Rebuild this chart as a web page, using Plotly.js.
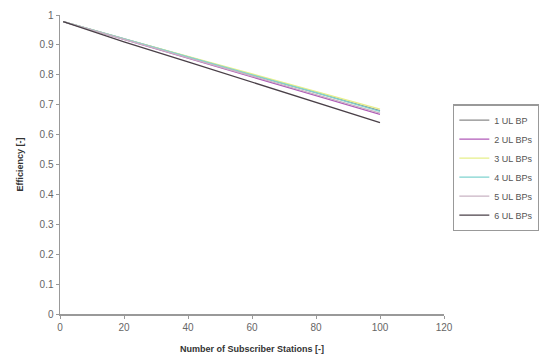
<!DOCTYPE html>
<html>
<head>
<meta charset="utf-8">
<script src="https://cdn.plot.ly/plotly-3.0.1.min.js"></script>
<style>html,body{margin:0;padding:0;background:#fff;}#chart{width:539px;height:362px;}</style>
</head>
<body>
<div id="chart"></div>
<script>
const stations = [1, 20, 40, 60, 80, 100];
const names = ["1 UL BP", "2 UL BPs", "3 UL BPs", "4 UL BPs", "5 UL BPs", "6 UL BPs"];
const eff1 = [0.978, 0.920, 0.860, 0.800, 0.740, 0.680];
const eff2 = [0.978, 0.918, 0.855, 0.793, 0.730, 0.668];
const eff3 = [0.978, 0.920, 0.862, 0.803, 0.745, 0.685];
const eff4 = [0.978, 0.920, 0.860, 0.800, 0.740, 0.678];
const eff5 = [0.978, 0.918, 0.857, 0.796, 0.735, 0.672];
const eff6 = [0.978, 0.910, 0.843, 0.775, 0.707, 0.640];
const series = [eff1, eff2, eff3, eff4, eff5, eff6];
const colors = ["#8a8a8a", "#b05ab8", "#e6ef8a", "#7fd3cf", "#c9b3c3", "#4a4048"];

const traces = series.map((s, i) => ({
  x: stations, y: s, name: names[i], type: "scatter", mode: "lines",
  line: {color: colors[i], width: 1.3}
}));

const fam = "Liberation Sans, Arial, sans-serif";
const layout = {
  width: 539, height: 362,
  margin: {l: 60, r: 95, t: 15, b: 48, autoexpand: false},
  paper_bgcolor: "#fff", plot_bgcolor: "#fff",
  font: {family: fam, size: 10, color: "#555"},
  showlegend: true,
  legend: {
    x: 1.023, xanchor: "left", y: 0.702, yanchor: "top",
    bordercolor: "#999", borderwidth: 1.5, bgcolor: "#fff",
    font: {family: fam, size: 9, color: "#555"},
    tracegroupgap: 0
  },
  xaxis: {
    range: [0, 120], dtick: 20, tick0: 0,
    showgrid: false, zeroline: false,
    showline: true, linecolor: "#999", linewidth: 1.5,
    ticks: "outside", ticklen: 3, tickcolor: "#999",
    tickfont: {family: fam, size: 10, color: "#666"},
    title: {text: "<b>Number of Subscriber Stations [-]</b>", standoff: 14,
            font: {family: fam, size: 9, color: "#333"}}
  },
  yaxis: {
    range: [0, 1], dtick: 0.1, tick0: 0,
    showgrid: false, zeroline: false,
    showline: true, linecolor: "#999", linewidth: 1.5,
    ticks: "outside", ticklen: 3, tickcolor: "#999",
    tickfont: {family: fam, size: 10, color: "#666"},
    title: {text: "<b>Efficiency [-]</b>", standoff: 14,
            font: {family: fam, size: 9, color: "#333"}}
  }
};
Plotly.newPlot("chart", traces, layout, {displayModeBar: false, staticPlot: true});
</script>
</body>
</html>
